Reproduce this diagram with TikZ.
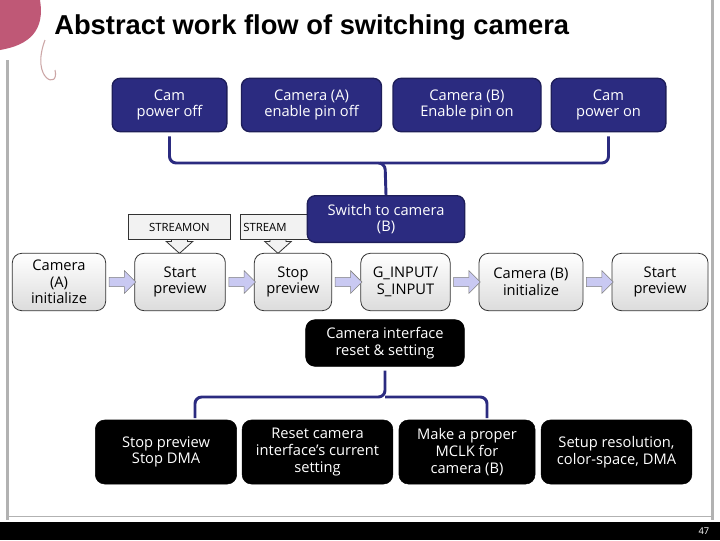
\documentclass[tikz,border=0pt]{standalone}
\usepackage{fontspec}
\setmainfont{Open Sans}
\usetikzlibrary{shapes.arrows,calc}
\definecolor{navy}{HTML}{2B2B80}
\definecolor{gbox}{HTML}{DCDCDC}
\definecolor{lav}{HTML}{C9C9F2}
\begin{document}
\begin{tikzpicture}[x=0.75pt,y=-0.75pt,
 blue/.style={draw=navy!70!black,line width=1pt,fill=navy,rounded corners=6pt,text=white,align=center,font=\fontsize{11}{12.5}\selectfont,inner sep=0pt},
 gray/.style={draw=black!80,line width=0.6pt,top color=white,bottom color=gbox,rounded corners=7pt,align=center,font=\fontsize{11}{12.5}\selectfont,inner sep=0pt},
 blk/.style={draw=black,fill=black,rounded corners=7pt,text=white,align=center,font=\fontsize{11}{12.5}\selectfont,inner sep=0pt},
 call/.style={draw=black!80,fill=black!5,line width=0.6pt,font=\fontsize{8.5}{10}\selectfont,inner sep=0pt},
 barr/.style={single arrow,draw=black!50,fill=lav,minimum height=20pt,minimum width=17pt,single arrow head extend=2.5pt,inner sep=1.5pt},
 brace/.style={draw=navy,line width=2.2pt,rounded corners=5pt}]
\useasboundingbox (0,0) rectangle (720,540);
\fill[white] (0,0) rectangle (720,540);
% decoration
\fill[magenta!60!red!70!black,opacity=0.85] (0,0) -- (40,0) .. controls (45,30) and (30,45) .. (0,50) -- cycle;
\draw[pink!60!gray,line width=0.8pt] (45,40) .. controls (30,80) and (60,90) .. (55,70);
\fill[black!30] (6,60) rectangle (9,520);
\fill[black!30] (711,0) rectangle (714,520);
\draw[black!30] (6,516) -- (714,516);
\fill[black] (0,522) rectangle (720,540);
\node[text=white,font=\fontsize{7}{8}\selectfont,anchor=east] (pg) at (714,531) {47};
\node[anchor=west,inner sep=0pt] (title) at (54,27) {\fontspec{Liberation Sans}\fontsize{20.5}{24}\selectfont\bfseries Abstract work flow of switching camera};
% top blue boxes
\node[blue,minimum width=86pt,minimum height=40pt] (t1) at (169.5,105) {Cam\\power off};
\node[blue,minimum width=105pt,minimum height=40pt] (t2) at (311.5,105) {Camera (A)\\enable pin off};
\node[blue,minimum width=111pt,minimum height=40pt] (t3) at (467,105) {Camera (B)\\Enable pin on};
\node[blue,minimum width=86pt,minimum height=40pt] (t4) at (608.5,105) {Cam\\power on};
% callouts
\node[call,minimum width=77pt,minimum height=19pt] (c1) at (179.5,227) {STREAMON};
\node[call,minimum width=56pt,minimum height=19pt,text width=52pt] (c2) at (278,227) {STREAM};
\foreach \c in {c1,c2}{
 \draw[black!80,fill=black!5,line width=0.6pt] ([xshift=-6pt]\c.south) -- ([xshift=-6pt,yshift=-1pt]\c.south) -- ([xshift=-10pt,yshift=-1pt]\c.south) -- ([yshift=-10pt]\c.south) -- ([xshift=10pt,yshift=-1pt]\c.south) -- ([xshift=6pt,yshift=-1pt]\c.south) -- ([xshift=6pt]\c.south);}
% switch box
\node[blue,minimum width=118pt,minimum height=35pt] (sw) at (386,219) {Switch to camera\\(B)};
\draw[brace] ($(t1.south)+(0,4)$) coordinate(b1) -- (b1|-0,163) -- (385,163) -- (sw.north);
\draw[brace] ($(t4.south)+(0,4)$) coordinate(b4) -- (b4|-0,163) -- (380,163);
% row
\node[gray,minimum width=70pt,minimum height=43pt] (r1) at (59,282) {Camera\\(A)\\initialize};
\node[gray,minimum width=68pt,minimum height=43pt] (r2) at (180,282) {Start\\preview};
\node[gray,minimum width=58pt,minimum height=43pt] (r3) at (293,282) {Stop\\preview};
\node[gray,minimum width=67pt,minimum height=43pt] (r4) at (405.5,282) {G\_INPUT/\\S\_INPUT};
\node[gray,minimum width=78pt,minimum height=43pt] (r5) at (531,282) {Camera (B)\\initialize};
\node[gray,minimum width=72pt,minimum height=43pt] (r6) at (660,282) {Start\\preview};
\foreach \a/\b in {r1/r2,r2/r3,r3/r4,r4/r5,r5/r6}{
 \node[barr] at ($(\a.east)!0.5!(\b.west)$) {};}
% lower
\node[blk,minimum width=119pt,minimum height=35pt] (ci) at (385,343) {Camera interface\\reset \& setting};
\node[blk,minimum width=106pt,minimum height=48pt] (k1) at (166,452) {Stop preview\\Stop DMA};
\node[blk,minimum width=113pt,minimum height=48pt] (k2) at (317.5,452) {Reset camera\\interface's current\\setting};
\node[blk,minimum width=102pt,minimum height=48pt] (k3) at (467,452) {Make a proper\\MCLK for\\camera (B)};
\node[blk,minimum width=113pt,minimum height=48pt] (k4) at (616.5,452) {Setup resolution,\\color-space, DMA};
\draw[brace] ($(ci.south)+(0,4)$) -- (385,397) -- (195,397) -- (195,418);
\draw[brace] (385,397) -- (487,397) -- (487,418);
\end{tikzpicture}
\end{document}
